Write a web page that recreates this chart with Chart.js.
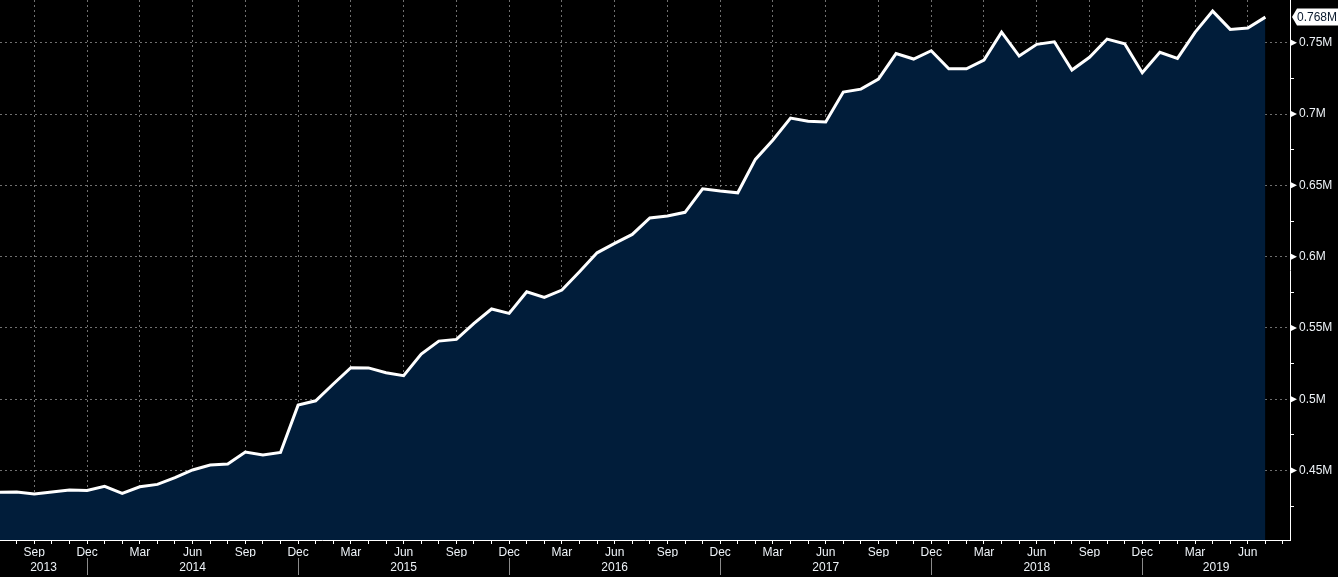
<!DOCTYPE html>
<html><head><meta charset="utf-8">
<script src="https://cdn.jsdelivr.net/npm/chart.js@4.4.1/dist/chart.umd.min.js"></script>
<style>html,body{margin:0;padding:0;background:#000;overflow:hidden}canvas{display:block}</style>
</head><body><canvas id="c" width="1338" height="577"></canvas>
<script>
const categories = [
 'Jul 2013','Aug 2013','Sep 2013','Oct 2013','Nov 2013','Dec 2013',
 'Jan 2014','Feb 2014','Mar 2014','Apr 2014','May 2014','Jun 2014','Jul 2014','Aug 2014','Sep 2014','Oct 2014','Nov 2014','Dec 2014',
 'Jan 2015','Feb 2015','Mar 2015','Apr 2015','May 2015','Jun 2015','Jul 2015','Aug 2015','Sep 2015','Oct 2015','Nov 2015','Dec 2015',
 'Jan 2016','Feb 2016','Mar 2016','Apr 2016','May 2016','Jun 2016','Jul 2016','Aug 2016','Sep 2016','Oct 2016','Nov 2016','Dec 2016',
 'Jan 2017','Feb 2017','Mar 2017','Apr 2017','May 2017','Jun 2017','Jul 2017','Aug 2017','Sep 2017','Oct 2017','Nov 2017','Dec 2017',
 'Jan 2018','Feb 2018','Mar 2018','Apr 2018','May 2018','Jun 2018','Jul 2018','Aug 2018','Sep 2018','Oct 2018','Nov 2018','Dec 2018',
 'Jan 2019','Feb 2019','Mar 2019','Apr 2019','May 2019','Jun 2019','Jul 2019'
];
const values = [
 0.4347,0.4350,0.4335,0.4350,0.4363,0.4360,
 0.4389,0.4340,0.4386,0.4403,0.4450,0.4504,0.4539,0.4546,0.4630,0.4610,0.4627,0.4959,
 0.4989,0.5107,0.5221,0.5220,0.5186,0.5165,0.5317,0.5408,0.5420,0.5532,0.5633,0.5602,
 0.5754,0.5715,0.5766,0.5894,0.6027,0.6093,0.6156,0.6271,0.6285,0.6311,0.6476,0.6460,
 0.6448,0.6682,0.6818,0.6972,0.6950,0.6944,0.7154,0.7175,0.7245,0.7424,0.7386,0.7444,
 0.7318,0.7318,0.7379,0.7575,0.7407,0.7489,0.7507,0.7309,0.7398,0.7526,0.7493,0.7290,
 0.7433,0.7390,0.7573,0.7722,0.7594,0.7603,0.7680
];
const yTickValues = [0.425,0.45,0.475,0.5,0.525,0.55,0.575,0.6,0.625,0.65,0.675,0.7,0.725,0.75];
const yLabelValues = [0.45,0.5,0.55,0.6,0.65,0.7,0.75];
const monthTickLabels = ['Sep','Dec','Mar','Jun'];
const yearLabels = ['2013','2014','2015','2016','2017','2018','2019'];
const xMin = 0.05, xMax = 73.4, yMin = 0.4013, yMax = 0.78;

const FONT = {family: "'Liberation Sans', Arial, sans-serif", size: 12};
const TEXT = '#eef3f8';
const GRID = 'rgba(150,150,150,0.75)';
const isMajorY = v => yLabelValues.some(m => Math.abs(m - v) < 1e-6);
const monthOf = v => (categories[v] || '').split(' ')[0];
const isLabeledMonth = v => monthTickLabels.includes(monthOf(v));
const monthTickValues = [];
for (let i = 1; i <= Math.floor(xMax); i++) monthTickValues.push(i);
// year boundaries: at each "Dec" category
const separators = categories.map((c, i) => c.startsWith('Dec') ? i : null).filter(v => v !== null);
const bounds = [xMin, ...separators, xMax];
const yearPositions = bounds.slice(0, -1).map((b, i) => (b + bounds[i + 1]) / 2);

const decor = {
  id: 'decor',
  afterDraw(chart) {
    const ctx = chart.ctx, ys = chart.scales.y, xs = chart.scales.x;
    const area = chart.chartArea;
    ctx.save();
    // arrowheads on labelled y ticks
    ctx.fillStyle = '#ffffff';
    yLabelValues.forEach(v => {
      const py = ys.getPixelForValue(v);
      ctx.beginPath();
      ctx.moveTo(area.right, py - 3.5);
      ctx.lineTo(area.right + 7, py);
      ctx.lineTo(area.right, py + 3.5);
      ctx.closePath();
      ctx.fill();
    });
    // year separators
    ctx.strokeStyle = '#8a8a8a';
    ctx.lineWidth = 1;
    separators.forEach(s => {
      const px = Math.round(xs.getPixelForValue(s)) + 0.5;
      ctx.beginPath();
      ctx.moveTo(px, 558);
      ctx.lineTo(px, 575);
      ctx.stroke();
    });
    // last value label
    const last = values[values.length - 1];
    const py = ys.getPixelForValue(last);
    const x0 = area.right + 2;
    ctx.fillStyle = '#ffffff';
    ctx.beginPath();
    ctx.moveTo(x0, py);
    ctx.lineTo(x0 + 5, py - 8.5);
    ctx.lineTo(chart.width, py - 8.5);
    ctx.lineTo(chart.width, py + 8.5);
    ctx.lineTo(x0 + 5, py + 8.5);
    ctx.closePath();
    ctx.fill();
    ctx.fillStyle = '#0a1a2e';
    ctx.font = "12px 'Liberation Sans', Arial, sans-serif";
    ctx.textBaseline = 'middle';
    ctx.textAlign = 'left';
    ctx.fillText(last.toFixed(3) + 'M', x0 + 5, py + 0.5);
    ctx.restore();
  }
};

new Chart(document.getElementById('c'), {
  type: 'line',
  data: {
    datasets: [{
      data: values.map((v, i) => ({x: i, y: v})),
      borderColor: '#ffffff',
      borderWidth: 3,
      backgroundColor: '#011d3a',
      fill: 'start',
      pointRadius: 0,
      tension: 0
    }]
  },
  options: {
    responsive: false,
    animation: false,
    layout: {padding: 0},
    plugins: {legend: {display: false}, tooltip: {enabled: false}},
    scales: {
      x: {
        type: 'linear', position: 'bottom', weight: 0,
        min: xMin, max: xMax,
        afterBuildTicks: s => { s.ticks = monthTickValues.map(v => ({value: v})); },
        afterFit: s => { s.height = 17; s.paddingLeft = 0; s.paddingRight = 0; },
        ticks: {
          autoSkip: false, maxRotation: 0, padding: 1, color: TEXT, font: FONT,
          callback: v => isLabeledMonth(v) ? monthOf(v) : ''
        },
        grid: {
          color: c => (c.tick && isLabeledMonth(c.tick.value)) ? GRID : 'rgba(0,0,0,0)',
          tickColor: '#ffffff', tickLength: 4, lineWidth: 1
        },
        border: {display: true, color: '#ffffff', width: 1, dash: [2, 3]}
      },
      x2: {
        type: 'linear', position: 'bottom', weight: 1,
        min: xMin, max: xMax,
        afterBuildTicks: s => { s.ticks = yearPositions.map(v => ({value: v})); },
        afterFit: s => { s.height = 20; s.paddingLeft = 0; s.paddingRight = 0; },
        ticks: {
          autoSkip: false, maxRotation: 0, padding: 3, color: TEXT, font: FONT,
          callback: (v, i) => yearLabels[i]
        },
        grid: {display: false, drawTicks: false},
        border: {display: false}
      },
      y: {
        type: 'linear', position: 'right',
        min: yMin, max: yMax,
        afterBuildTicks: s => { s.ticks = yTickValues.map(v => ({value: v})); },
        afterFit: s => { s.width = 48; s.paddingTop = 0; s.paddingBottom = 0; },
        ticks: {
          padding: 5, color: TEXT, font: FONT,
          callback: v => isMajorY(v) ? parseFloat(v.toFixed(3)) + 'M' : ''
        },
        grid: {
          color: c => (c.tick && isMajorY(c.tick.value)) ? GRID : 'rgba(0,0,0,0)',
          tickColor: '#ffffff', tickLength: 4, lineWidth: 1
        },
        border: {display: true, color: '#ffffff', width: 1, dash: [2, 3]}
      }
    }
  },
  plugins: [decor]
});
</script>
</body></html>
